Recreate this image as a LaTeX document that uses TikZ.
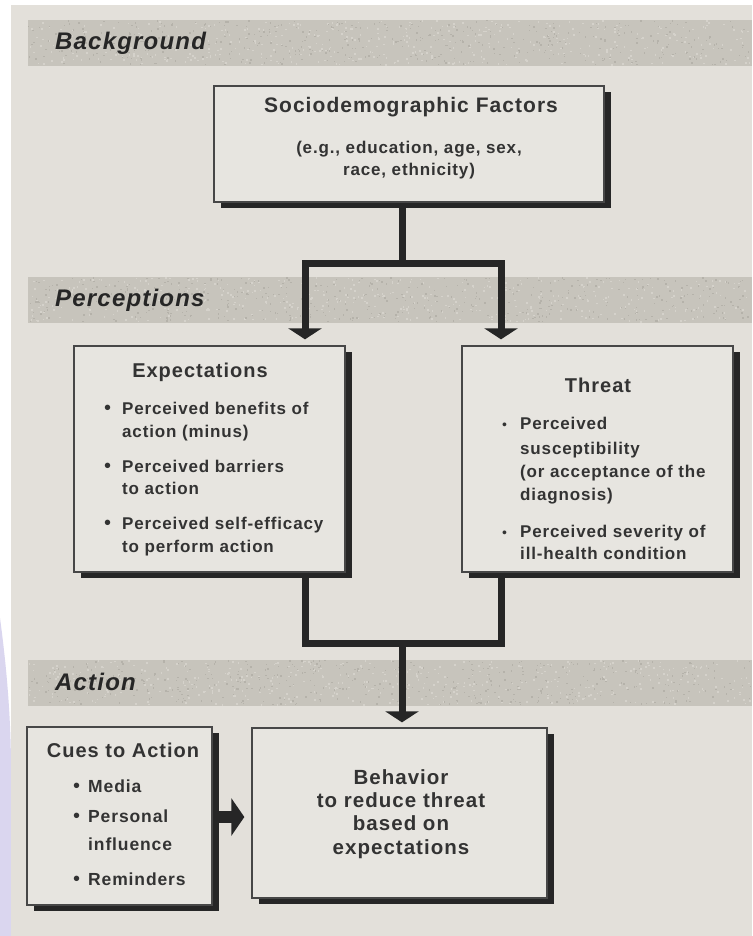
\documentclass[tikz,border=0pt]{standalone}
\usepackage{fontspec}
\setmainfont{Liberation Sans}
\newfontfamily\dfont[LetterSpace=5]{Liberation Sans}
\newfontfamily\lfont[LetterSpace=5]{Liberation Sans}
\usetikzlibrary{shadows,arrows.meta}
\definecolor{panel}{HTML}{E3E0DA}
\definecolor{band}{HTML}{C7C4BC}
\definecolor{bandlt}{HTML}{D5D2CB}
\definecolor{banddk}{HTML}{B5B2AA}
\definecolor{boxfill}{HTML}{E7E5E0}
\definecolor{ink}{HTML}{262626}
\definecolor{txt}{HTML}{333333}
\definecolor{lav}{HTML}{DAD6EF}
\tikzset{
  box/.style={draw=ink!85, line width=1.3pt, fill=boxfill, inner sep=0pt,
    drop shadow={shadow xshift=7pt, shadow yshift=-6pt, fill=ink, opacity=1}},
  conn/.style={draw=ink, line width=7pt},
  tip/.style={-{Triangle[width=33pt,length=11pt]}},
  bandlabel/.style={font=\lfont\bfseries\itshape\fontsize{24}{24}\selectfont, text=ink, anchor=mid west, inner sep=0pt},
  title/.style={font=\dfont\bfseries\fontsize{20}{23}\selectfont, text=txt, anchor=mid, inner sep=0pt},
  body/.style={font=\dfont\bfseries\fontsize{17}{23}\selectfont, text=txt, anchor=mid west, inner sep=0pt},
  bodyc/.style={font=\dfont\bfseries\fontsize{17}{23}\selectfont, text=txt, anchor=mid, inner sep=0pt},
  cue/.style={font=\dfont\bfseries\fontsize{17.5}{23}\selectfont, text=txt, anchor=mid west, inner sep=0pt},
  bul/.style={font=\fontsize{20}{20}\selectfont, text=txt, anchor=mid west, inner sep=0pt},
  sbul/.style={font=\fontsize{14}{14}\selectfont, text=txt, anchor=mid west, inner sep=0pt},
}
\begin{document}
\begin{tikzpicture}[x=1pt,y=-1pt]
\useasboundingbox (0,0) rectangle (752,936);
% page and panel
\fill[white] (0,0) rectangle (752,936);
\fill[lav] (0,618) .. controls (7,670) and (11,720) .. (11,770) -- (11,936) -- (0,936) -- cycle;
\fill[panel] (11,5) rectangle (752,936);
% bands
\pgfmathsetseed{7}
\foreach \by in {20,277,660} {
  \fill[band] (28,\by) rectangle (752,\by+46);
  \foreach \i in {1,...,450} {
    \pgfmathsetmacro\px{28+722*rnd}
    \pgfmathsetmacro\py{\by+44*rnd}
    \fill[bandlt] (\px,\py) rectangle ++(1.6,1.6);
    \pgfmathsetmacro\qx{28+722*rnd}
    \pgfmathsetmacro\qy{\by+44*rnd}
    \fill[banddk] (\qx,\qy) rectangle ++(1.4,1.4);
  }
}
\node[bandlabel] (lbg) at (55,47) {Background};
\node[bandlabel] (lpe) at (55,304) {Perceptions};
\node[bandlabel] (lac) at (55,688) {Action};
% boxes
\node[box, minimum width=390pt, minimum height=116pt] (socio) at (409,144) {};
\node[box, minimum width=271pt, minimum height=226pt] (expect) at (209.5,459) {};
\node[box, minimum width=271pt, minimum height=226pt] (threat) at (597.5,459) {};
\node[box, minimum width=185pt, minimum height=178pt] (cues) at (119.5,816) {};
\node[box, minimum width=295pt, minimum height=170pt] (behav) at (399.5,813) {};
% socio text
\node[title, font=\dfont\bfseries\fontsize{21}{23}\selectfont] (s1) at (411,110) {Sociodemographic Factors};
\node[bodyc] (s2) at (409,151) {(e.g., education, age, sex,};
\node[bodyc] (s3) at (409,173) {race, ethnicity)};
% expectations text
\node[title] (et) at (200,375) {Expectations};
\node[bul] (eb1) at (104,412) {•};
\node[body] (e1) at (122,412) {Perceived benefits of};
\node[body] (e2) at (122,435) {action (minus)};
\node[bul] (eb2) at (104,470) {•};
\node[body] (e3) at (122,470) {Perceived barriers};
\node[body] (e4) at (122,492) {to action};
\node[bul] (eb3) at (104,527) {•};
\node[body] (e5) at (122,527) {Perceived self-efficacy};
\node[body] (e6) at (122,550) {to perform action};
% threat text
\node[title] (tt) at (598,390) {Threat};
\node[sbul] (tb1) at (502,427) {•};
\node[body] (t1) at (520,427) {Perceived};
\node[body] (t2) at (520,452) {susceptibility};
\node[body] (t3) at (520,475) {(or acceptance of the};
\node[body] (t4) at (520,498) {diagnosis)};
\node[sbul] (tb2) at (502,535) {•};
\node[body] (t5) at (520,535) {Perceived severity of};
\node[body] (t6) at (520,557) {ill-health condition};
% cues text
\node[title] (ct) at (123,755) {Cues to Action};
\node[bul] (cb1) at (73,790) {•};
\node[cue] (c1) at (88,790) {Media};
\node[bul] (cb2) at (73,820) {•};
\node[cue] (c2) at (88,820) {Personal};
\node[cue] (c3) at (88,848) {influence};
\node[bul] (cb3) at (73,883) {•};
\node[cue] (c4) at (88,883) {Reminders};
% behavior text
\node[title, font=\dfont\bfseries\fontsize{20.5}{23}\selectfont] (b1) at (401,782) {Behavior};
\node[title, font=\dfont\bfseries\fontsize{20.5}{23}\selectfont] (b2) at (401,805) {to reduce threat};
\node[title, font=\dfont\bfseries\fontsize{20.5}{23}\selectfont] (b3) at (401,828) {based on};
\node[title, font=\dfont\bfseries\fontsize{20.5}{23}\selectfont] (b4) at (401,852) {expectations};
% connectors
\coordinate (j1) at (402,263);
\coordinate (jl) at (305,263);
\coordinate (jr) at (501,263);
\coordinate (j2) at (402,643);
\coordinate (ar) at (0,817);
\draw[conn] (socio.south -| j1) -- (j1);
\draw[conn,tip,shorten >=6pt] (j1) -| (expect.north -| jl);
\draw[conn,tip,shorten >=6pt] (j1) -| (threat.north -| jr);
\draw[conn] (expect.south -| jl) |- (j2);
\draw[conn] (threat.south -| jr) |- (j2);
\draw[conn,tip,shorten >=5pt] (j2) -- (behav.north -| j2);
\draw[draw=ink, line width=12pt, -{Triangle[width=37pt,length=13pt]}, shorten <=6pt, shorten >=7pt] (cues.east |- ar) -- (behav.west |- ar);
\end{tikzpicture}
\end{document}
